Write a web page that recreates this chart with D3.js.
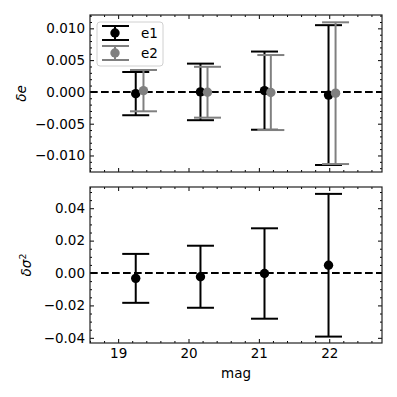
<!DOCTYPE html>
<html>
<head>
<meta charset="utf-8">
<script src="https://cdn.jsdelivr.net/npm/d3@7"></script>
<style>
  body { margin: 0; background: #fff; }
  text { font-family: "DejaVu Sans", sans-serif; }
</style>
</head>
<body>
<div id="chart"></div>
<script>
// values
var e1Mag = [19.25, 20.17, 21.08, 21.99];
var e2Mag = [19.36, 20.27, 21.17, 22.09];
var e1Val = [-0.00027, 0.0000, 0.0002, -0.0005];
var e1Err = [0.0034, 0.00445, 0.00615, 0.0110];
var e2Val = [0.0002, -0.00005, -0.0001, -0.0002];
var e2Err = [0.00325, 0.0040, 0.0059, 0.01115];
var sigMag = [19.25, 20.17, 21.08, 21.99];
var sigVal = [-0.0033, -0.0023, -0.0003, 0.0048];
var sigErr = [0.0151, 0.01915, 0.0279, 0.04405];

var xTicks = [19, 20, 21, 22];
var topTicks = [-0.010, -0.005, 0, 0.005, 0.010];
var botTicks = [-0.04, -0.02, 0, 0.02, 0.04];

var W = 397, H = 397;
var left = 90, right = 382;
var fs = 13.5;

var svg = d3.select("#chart").append("svg")
    .attr("width", W)
    .attr("height", H);

var x = d3.scaleLinear().domain([18.6, 22.75]).range([left, right]);

var fmtMinus = function(f) {
    return function(d) { return f(d).replace("-", "\u2212"); };
};

function minorRange(a, b, step, majors) {
    var out = [];
    for (var i = Math.ceil(a / step); i <= Math.floor(b / step); i++) {
        var v = i * step;
        if (!majors.some(function(m) { return Math.abs(m - v) < step / 10; })) out.push(v);
    }
    return out;
}

function drawPanel(top, bottom, y, yTicks, yFmt, minorStep, showX) {
    var g = svg.append("g");

    // dashed zero line
    g.append("line")
        .attr("x1", left).attr("x2", right)
        .attr("y1", y(0)).attr("y2", y(0))
        .attr("stroke", "black")
        .attr("stroke-width", 2)
        .attr("stroke-dasharray", "7.7,3.3");

    var yMinor = minorRange(y.domain()[0], y.domain()[1], minorStep, yTicks);
    var xMinor = minorRange(18.6, 22.75, 0.2, xTicks);

    // ticks on all four sides, pointing inward
    var axes = [
        [d3.axisLeft(y).tickValues(yTicks).tickFormat(yFmt), "translate(" + left + ",0)", 4],
        [d3.axisLeft(y).tickValues(yMinor).tickFormat(""), "translate(" + left + ",0)", 2],
        [d3.axisRight(y).tickValues(yTicks).tickFormat(""), "translate(" + right + ",0)", 4],
        [d3.axisRight(y).tickValues(yMinor).tickFormat(""), "translate(" + right + ",0)", 2],
        [d3.axisBottom(x).tickValues(xTicks).tickFormat(showX ? d3.format("d") : ""), "translate(0," + bottom + ")", 4],
        [d3.axisBottom(x).tickValues(xMinor).tickFormat(""), "translate(0," + bottom + ")", 2],
        [d3.axisTop(x).tickValues(xTicks).tickFormat(""), "translate(0," + top + ")", 4],
        [d3.axisTop(x).tickValues(xMinor).tickFormat(""), "translate(0," + top + ")", 2]
    ];
    axes.forEach(function(a) {
        var ax = g.append("g")
            .attr("transform", a[1])
            .call(a[0].tickSizeInner(-a[2]).tickSizeOuter(0).tickPadding(a[2] == 4 ? 5 : 0));
        ax.select(".domain").remove();
        ax.selectAll(".tick line").attr("stroke", "black").attr("stroke-width", 1);
        ax.selectAll(".tick text")
            .attr("font-family", "DejaVu Sans")
            .attr("font-size", fs)
            .attr("fill", "black");
    });

    g.append("rect")
        .attr("x", left).attr("y", top)
        .attr("width", right - left).attr("height", bottom - top)
        .attr("fill", "none")
        .attr("stroke", "#222")
        .attr("stroke-width", 1.2);
    return g;
}

function errorbars(g, y, mags, vals, errs, color) {
    var cap = 13.5;
    var grp = g.append("g");
    mags.forEach(function(m, i) {
        var cx = x(m);
        var y1 = y(vals[i] + errs[i]), y0 = y(vals[i] - errs[i]);
        grp.append("line")
            .attr("x1", cx).attr("x2", cx).attr("y1", y1).attr("y2", y0)
            .attr("stroke", color).attr("stroke-width", 2);
        [y1, y0].forEach(function(yy) {
            grp.append("line")
                .attr("x1", cx - cap).attr("x2", cx + cap)
                .attr("y1", yy).attr("y2", yy)
                .attr("stroke", color).attr("stroke-width", 2);
        });
        grp.append("circle")
            .attr("cx", cx).attr("cy", y(vals[i]))
            .attr("r", 4.7)
            .attr("fill", color);
    });
}

// top panel: delta e
var yTop = d3.scaleLinear().domain([-0.0126, 0.0121]).range([172, 15]);
var gTop = drawPanel(15, 172, yTop, topTicks, fmtMinus(d3.format(".3f")), 0.001, false);
errorbars(gTop, yTop, e1Mag, e1Val, e1Err, "black");
errorbars(gTop, yTop, e2Mag, e2Val, e2Err, "#808080");

// bottom panel: delta sigma^2
var yBot = d3.scaleLinear().domain([-0.0432, 0.0531]).range([343, 187]);
var gBot = drawPanel(187, 343, yBot, botTicks, fmtMinus(d3.format(".2f")), 0.005, true);
errorbars(gBot, yBot, sigMag, sigVal, sigErr, "black");

// legend
var leg = svg.append("g");
leg.append("rect")
    .attr("x", 97).attr("y", 22).attr("width", 66).attr("height", 44)
    .attr("rx", 3)
    .attr("fill", "white").attr("fill-opacity", 0.85)
    .attr("stroke", "#d0d0d0").attr("stroke-width", 1);
[["e1", "black", 33], ["e2", "#808080", 53]].forEach(function(e) {
    var cy = e[2];
    leg.append("line").attr("x1", 115).attr("x2", 115).attr("y1", cy - 7).attr("y2", cy + 7)
        .attr("stroke", e[1]).attr("stroke-width", 2);
    [cy - 7, cy + 7].forEach(function(yy) {
        leg.append("line").attr("x1", 102).attr("x2", 129).attr("y1", yy).attr("y2", yy)
            .attr("stroke", e[1]).attr("stroke-width", 2);
    });
    leg.append("circle").attr("cx", 115).attr("cy", cy).attr("r", 4.7).attr("fill", e[1]);
    leg.append("text").attr("x", 141).attr("y", cy + 5)
        .attr("font-size", fs).attr("fill", "black").text(e[0]);
});

// axis labels
svg.append("text")
    .attr("transform", "translate(26,93.5) rotate(-90)")
    .attr("text-anchor", "middle")
    .attr("font-size", fs)
    .html('<tspan font-style="italic">\u03b4e</tspan>');
svg.append("text")
    .attr("transform", "translate(31,265) rotate(-90)")
    .attr("text-anchor", "middle")
    .attr("font-size", fs)
    .html('<tspan font-style="italic">\u03b4\u03c3</tspan><tspan font-size="9.5" dy="-5">2</tspan>');
svg.append("text")
    .attr("x", (left + right) / 2).attr("y", 378)
    .attr("text-anchor", "middle")
    .attr("font-size", fs)
    .text("mag");
</script>
</body>
</html>
